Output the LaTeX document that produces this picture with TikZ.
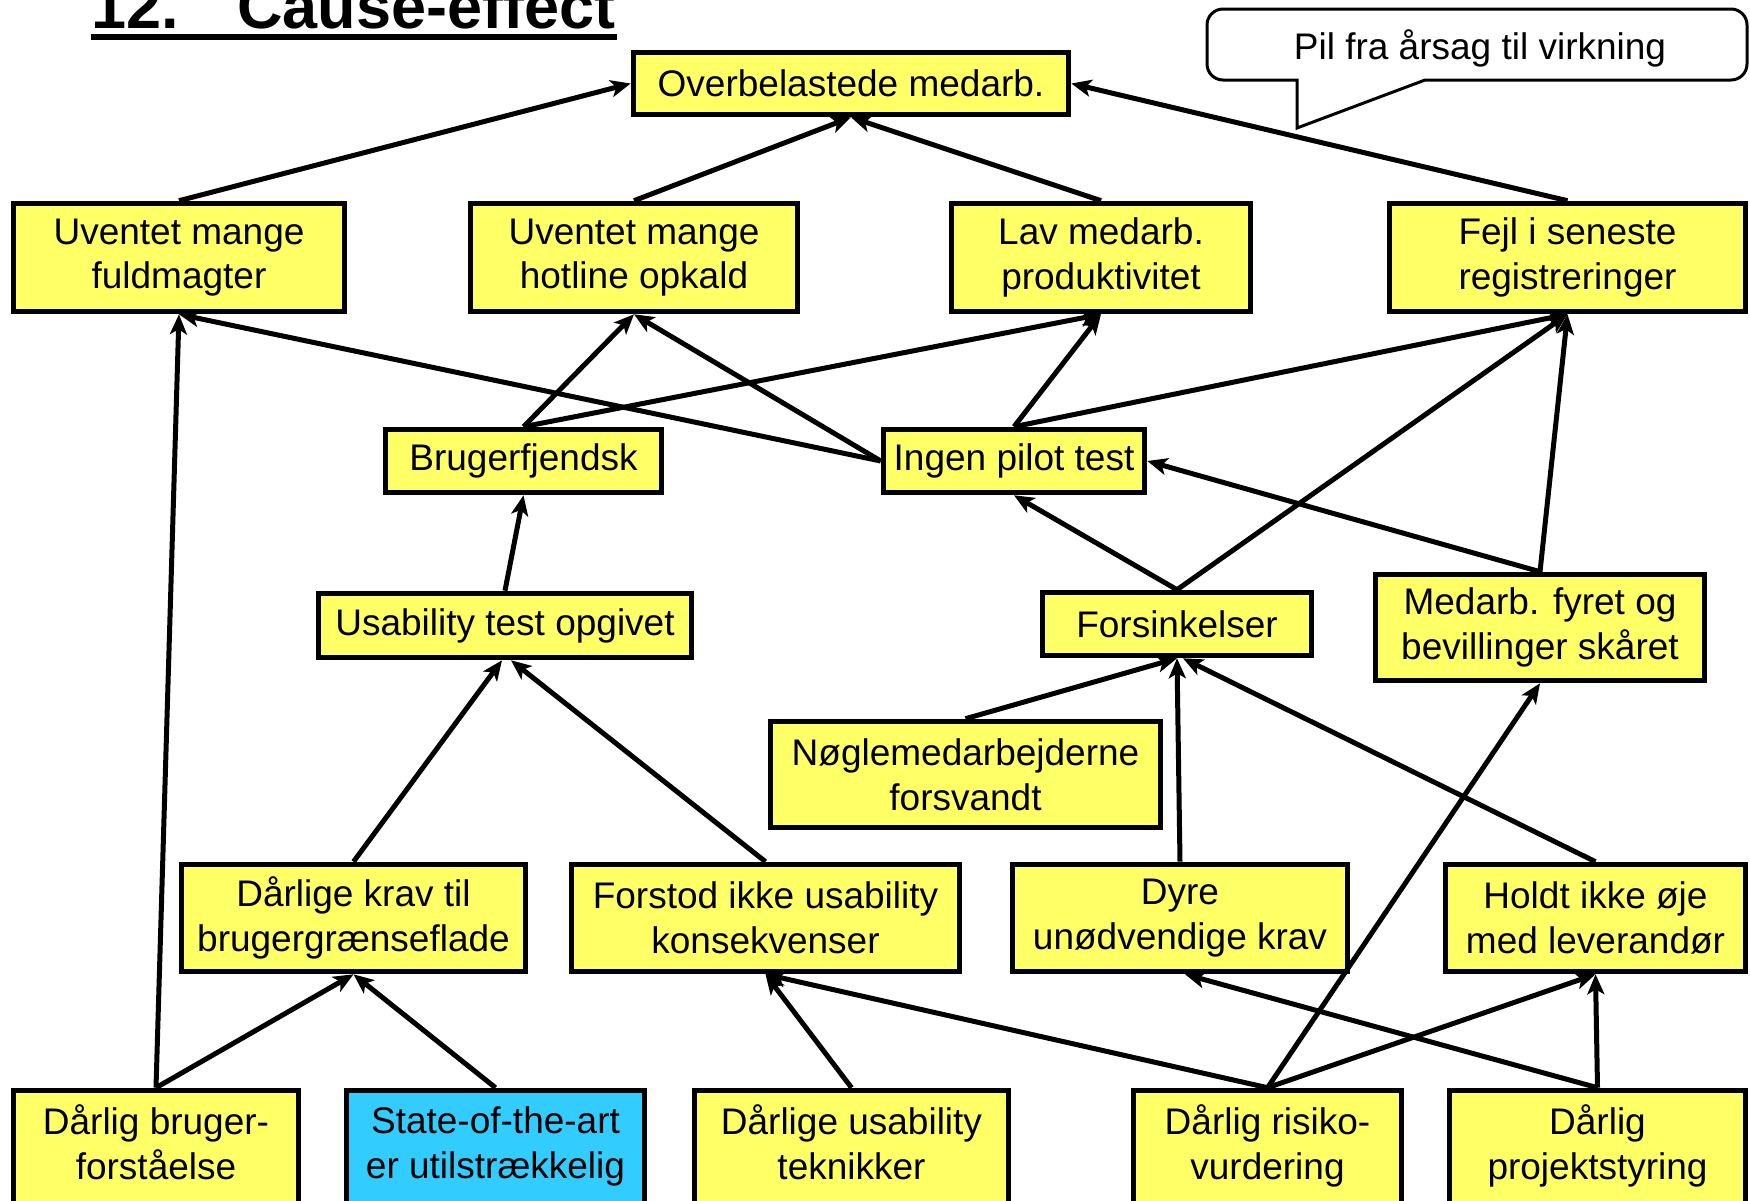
\documentclass[tikz,border=0pt]{standalone}
\usepackage{fontspec}
\setmainfont{Liberation Sans}
\usetikzlibrary{arrows.meta}
\definecolor{boxyellow}{HTML}{FFFF66}
\definecolor{boxblue}{HTML}{33CCFF}
\tikzset{
  box/.style={draw, line width=2.8pt, fill=boxyellow, align=center, inner sep=0pt,
    font=\fontsize{18.5}{22.3}\selectfont},
  bluebox/.style={box, fill=boxblue},
  lbl/.style={align=center, inner sep=0pt, font=\fontsize{18.5}{22.3}\selectfont},
  arr/.style={line width=2.5pt, -{Stealth[length=10pt,width=8.5pt,inset=2.5pt]}},
}
\begin{document}
\begin{tikzpicture}[x=0.5pt,y=-0.5pt]
\clip (0,0) rectangle (1750,1200);
\fill[white] (0,0) rectangle (1750,1200);

% title
\node[anchor=base west, inner sep=0pt, font=\fontsize{31.5}{36}\selectfont\bfseries] (t1) at (91,28) {12.};
\node[anchor=base west, inner sep=0pt, font=\fontsize{31.5}{36}\selectfont\bfseries] (t2) at (237,28) {Cause-effect};
\draw[line width=3pt] (91,37) -- (617,37);

% callout
\draw[line width=1.5pt, fill=white] (1297,128) -- (1297,80) [rounded corners=8pt] -- (1207,80) -- (1207,9) -- (1747,9) -- (1747,80) -- (1700,80) [sharp corners] -- (1425,80) -- cycle;
\node[lbl] (cl) at (1480,48) {Pil fra årsag til virkning};

% nodes
\node[box, minimum width=217.5pt, minimum height=31pt] (ov) at (851,83.5) {Overbelastede medarb.};
\node[box, minimum width=165.5pt, minimum height=54pt] (uf) at (179,257.5) {Uventet mange\\fuldmagter};
\node[box, minimum width=163.5pt, minimum height=54pt] (uh) at (634,257.5) {Uventet mange\\hotline opkald};
\node[box, minimum width=149.5pt, minimum height=54pt] (lm) at (1101,257.5) {Lav medarb.\\produktivitet};
\node[box, minimum width=178pt, minimum height=54pt] (fe) at (1567.5,257.5) {Fejl i seneste\\registreringer};
\node[box, minimum width=138pt, minimum height=31.5pt] (bf) at (523.5,461) {Brugerfjendsk};
\node[box, minimum width=130.5pt, minimum height=31.5pt] (ip) at (1014,461) {Ingen pilot test};
\node[box, minimum width=186.5pt, minimum height=32pt] (uto) at (505,625.5) {Usability test opgivet};
\node[box, minimum width=134.5pt, minimum height=31.5pt] (fo) at (1177,624) {Forsinkelser};
\node[box, minimum width=164.5pt, minimum height=53pt] (mf) at (1540,627.5) {Medarb. fyret og\\bevillinger skåret};
\node[box, minimum width=195pt, minimum height=53pt] (ng) at (965.5,774.5) {Nøglemedarbejderne\\forsvandt};
\node[box, minimum width=172pt, minimum height=53.5pt] (dk) at (353.5,918) {Dårlige krav til\\brugergrænseflade};
\node[box, minimum width=194pt, minimum height=53.5pt] (fi) at (765.5,918) {Forstod ikke usability\\konsekvenser};
\node[box, minimum width=167.5pt, minimum height=53.5pt] (dy) at (1180,918) {Dyre\\unødvendige krav};
\node[box, minimum width=150pt, minimum height=53.5pt] (ho) at (1595.5,918) {Holdt ikke øje\\med leverandør};

% bottom row: boxes run past the lower edge; texts placed separately
\node[box, minimum width=142.5pt, minimum height=58.5pt] (db) at (156,1149) {};
\node[bluebox, minimum width=149pt, minimum height=58.5pt] (sa) at (495.5,1149) {};
\node[box, minimum width=157pt, minimum height=58.5pt] (du) at (851.5,1149) {};
\node[box, minimum width=134pt, minimum height=58.5pt] (dr) at (1267.5,1149) {};
\node[box, minimum width=148pt, minimum height=58.5pt] (dp) at (1597.5,1149) {};
\node[lbl] (dbt) at (156,1149) {Dårlig bruger-\\forståelse\strut};
\node[lbl] (sat) at (495.5,1149) {State-of-the-art\\er utilstrækkelig\strut};
\node[lbl] (dut) at (851.5,1149) {Dårlige usability\\teknikker\strut};
\node[lbl] (drt) at (1267.5,1149) {Dårlig risiko-\\vurdering\strut};
\node[lbl] (dpt) at (1597.5,1149) {Dårlig\\projektstyring\strut};

% connectors
\draw[arr] (uf.north) -- (ov.west);
\draw[arr] (uh.north) -- (ov.south);
\draw[arr] (lm.north) -- (ov.south);
\draw[arr] (fe.north) -- (ov.east);
\draw[arr] (bf.north) -- (uh.south);
\draw[arr] (bf.north) -- (lm.south);
\draw[arr] (ip.west) -- (uf.south);
\draw[arr] (ip.west) -- (uh.south);
\draw[arr] (ip.north) -- (lm.south);
\draw[arr] (ip.north) -- (fe.south);
\draw[arr] (uto.north) -- (bf.south);
\draw[arr] (fo.north) -- (ip.south);
\draw[arr] (fo.north) -- (fe.south);
\draw[arr] (mf.north) -- (fe.south);
\draw[arr] (mf.north) -- (ip.east);
\draw[arr] (ng.north) -- (fo.south);
\draw[arr] (dy.north) -- (fo.south);
\draw[arr] (ho.north) -- ([xshift=3pt]fo.south);
\draw[arr] (dr.north) -- (mf.south);
\draw[arr] (dk.north) -- ([xshift=-1.5pt]uto.south);
\draw[arr] (fi.north) -- ([xshift=3pt]uto.south);
\draw[arr] (db.north) -- (dk.south);
\draw[arr] (db.north) -- (uf.south);
\draw[arr] (sa.north) -- (dk.south);
\draw[arr] (du.north) -- (fi.south);
\draw[arr] (dr.north) -- (fi.south);
\draw[arr] (dr.north) -- (ho.south);
\draw[arr] (dp.north) -- (ho.south);
\draw[arr] (dp.north) -- ([xshift=2.5pt]dy.south);
\end{tikzpicture}
\end{document}
